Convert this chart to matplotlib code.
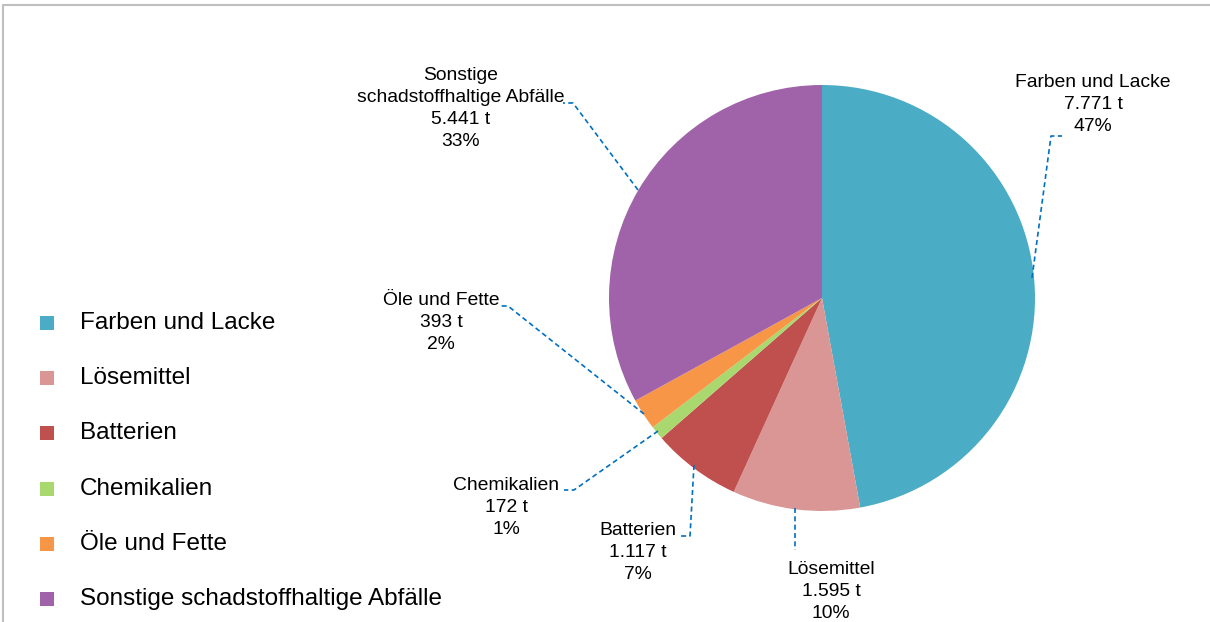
import matplotlib.pyplot as plt
from matplotlib.lines import Line2D

plt.rcParams['font.family'] = ['Liberation Sans', 'DejaVu Sans']

categories = ["Farben und Lacke", "Lösemittel", "Batterien", "Chemikalien",
              "Öle und Fette", "Sonstige schadstoffhaltige Abfälle"]
label_names = ["Farben und Lacke", "Lösemittel", "Batterien", "Chemikalien",
               "Öle und Fette", "Sonstige\nschadstoffhaltige Abfälle"]
tonnes = [7771, 1595, 1117, 172, 393, 5441]
colors = ["#4BACC6", "#D99694", "#C0504D", "#A9D86E", "#F79646", "#A062A8"]

W, H = 1210, 622
fig = plt.figure(figsize=(W / 100, H / 100), dpi=100)
ax = fig.add_axes([0, 0, 1, 1])

def py(y):
    # pixel row -> data y
    return H - y

cx, cy, r = 822, py(298), 213
ax.pie(tonnes, colors=colors, startangle=90, counterclock=False,
       center=(cx, cy), radius=r, frame=True,
       wedgeprops=dict(linewidth=0))
ax.set_xlim(0, W)
ax.set_ylim(0, H)
ax.set_aspect('equal')
ax.axis('off')

# outer frame (top and left visible)
ax.add_line(Line2D([3, 3, W], [0, py(5), py(5)], color='#BFBFBF', lw=1.5))

total = sum(tonnes)

def fmt_t(v):
    return f"{v:,}".replace(",", ".") + " t"

# label anchor (center x, top y in px) and leader line path (px)
label_pos = [(1093, 74), (831, 561), (638, 522), (506, 477), (441, 292), (461, 67)]
leaders = [
    [(1032, 278), (1051, 136), (1062, 136)],
    [(795, 508), (795, 550)],
    [(694, 465), (690, 536), (681, 536)],
    [(658, 431), (574, 490), (564, 490)],
    [(644, 414), (508, 306), (500, 306)],
    [(638, 190), (573, 103), (563, 103)],
]

for name, v, (lx, ly), path in zip(label_names, tonnes, label_pos, leaders):
    pct = round(v / total * 100)
    ax.text(lx, py(ly), f"{name}\n{fmt_t(v)}\n{pct}%", ha='center', va='top',
            fontsize=13.9, linespacing=1.38, color='black')
    xs = [p[0] for p in path]
    ys = [py(p[1]) for p in path]
    ax.plot(xs, ys, color='#0070C0', lw=1.2, linestyle=(0, (3, 2)))

# legend
for i, (name, c) in enumerate(zip(categories, colors)):
    y = py(323 + i * 55.2)
    ax.scatter([47], [y], marker='s', s=110, color=c, linewidths=0)
    ax.text(80, y, name, ha='left', va='center', fontsize=17.5, color='black')

fig.savefig("out.png", dpi=100)
